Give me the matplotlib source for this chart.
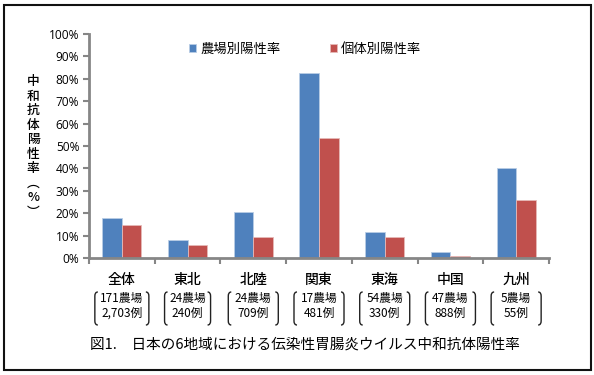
import matplotlib
matplotlib.use("Agg")
import matplotlib.pyplot as plt
import matplotlib.transforms as mtransforms
from matplotlib.path import Path
from matplotlib.patches import PathPatch, Rectangle
import numpy as np

plt.rcParams['font.family'] = ['Noto Sans CJK JP', 'DejaVu Sans']

regions = ['全体', '東北', '北陸', '関東', '東海', '中国', '九州']
farms = ['171農場', '24農場', '24農場', '17農場', '54農場', '47農場', '5農場']
cases = ['2,703例', '240例', '709例', '481例', '330例', '888例', '55例']
farm_rate = [17.7, 8.2, 20.7, 82.4, 11.5, 2.5, 40.3]
indiv_rate = [14.6, 5.9, 9.5, 53.4, 9.5, 1.0, 25.9]
series_names = ['農場別陽性率', '個体別陽性率']
yticks = [0, 10, 20, 30, 40, 50, 60, 70, 80, 90, 100]
ylabel = '中和抗体陽性率︵%︶'
title = '図1.　日本の6地域における伝染性胃腸炎ウイルス中和抗体陽性率'

blue = '#4F81BD'
red = '#C0504D'
axis_grey = '#868686'

W, H = 594, 375
fig = plt.figure(figsize=(W / 100, H / 100), dpi=100)
ax = fig.add_axes([89 / W, 1 - 258 / H, (549 - 89) / W, (258 - 34) / H])

x = np.arange(len(regions))
bw = 0.297
ax.bar(x - bw / 2, farm_rate, bw, color=blue, edgecolor='#B9CDE5', linewidth=0.6, label=series_names[0])
ax.bar(x + bw / 2, indiv_rate, bw, color=red, edgecolor='#E6B9B8', linewidth=0.6, label=series_names[1])

ax.set_xlim(-0.5, len(regions) - 0.5)
ax.set_ylim(0, 100)
ax.set_yticks(yticks)
ax.set_yticklabels([f'{v}%' for v in yticks], fontsize=8.6, family=['Open Sans', 'DejaVu Sans'])
ax.tick_params(axis='y', direction='out', length=4, width=1.5, color=axis_grey, pad=3)

ax.set_xticks(x)
ax.set_xticklabels(regions, fontsize=10, fontweight='medium')
ax.tick_params(axis='x', which='major', length=0, pad=11)
ax.set_xticks(np.arange(-0.5, len(regions), 1.0), minor=True)
ax.tick_params(axis='x', which='minor', direction='out', length=4, width=1.5, color=axis_grey)

for s in ['top', 'right']:
    ax.spines[s].set_visible(False)
for s in ['left', 'bottom']:
    ax.spines[s].set_color(axis_grey)
    ax.spines[s].set_linewidth(2)

# Sub-labels with brackets
trans = mtransforms.blended_transform_factory(ax.transData, fig.transFigure)
px = 1 / 65.7  # data units per pixel in x
ytop = 1 - 292 / H
ybot = 1 - 325 / H
r = 4 / H
for i in range(len(regions)):
    ax.text(i, 1 - 306 / H, f'{farms[i]}\n{cases[i]}', transform=trans,
            ha='center', va='center', fontsize=8.5, linespacing=1.2)
    half = (27 if i == 0 else (23 if i == 1 else 25)) * px
    h = 3 * px
    for sgn in (-1, 1):
        x0 = i + sgn * half
        verts = [(x0 - sgn * h, ytop), (x0, ytop), (x0, ytop - r),
                 (x0, ybot + r), (x0, ybot), (x0 - sgn * h, ybot)]
        codes = [Path.MOVETO, Path.CURVE3, Path.CURVE3,
                 Path.LINETO, Path.CURVE3, Path.CURVE3]
        ax.add_patch(PathPatch(Path(verts, codes), transform=trans, fill=False,
                               edgecolor='#222222', linewidth=1.0, clip_on=False))

# Legend
ax.legend(ncol=2, loc='center left', bbox_to_anchor=(189 / W, 1 - 49 / H),
          bbox_transform=fig.transFigure, frameon=False, fontsize=9.6,
          handlelength=0.55, handleheight=0.55, handletextpad=0.3,
          columnspacing=3.7, borderpad=0, borderaxespad=0)

# Y label stacked vertically
fig.text(33 / W, 1 - 147 / H, '\n'.join(ylabel), ha='center', va='center',
         fontsize=9.2, fontweight='medium', linespacing=1.15)

# Title
fig.text(305 / W, 1 - 345 / H, title, ha='center', va='center', fontsize=10.5)

# Outer frame
fig.patches.append(Rectangle((4 / W, 1 - 370 / H), (591 - 4) / W, (370 - 5) / H,
                             transform=fig.transFigure, fill=False,
                             edgecolor='#111111', linewidth=1.5))

fig.savefig('out.png', dpi=100)
